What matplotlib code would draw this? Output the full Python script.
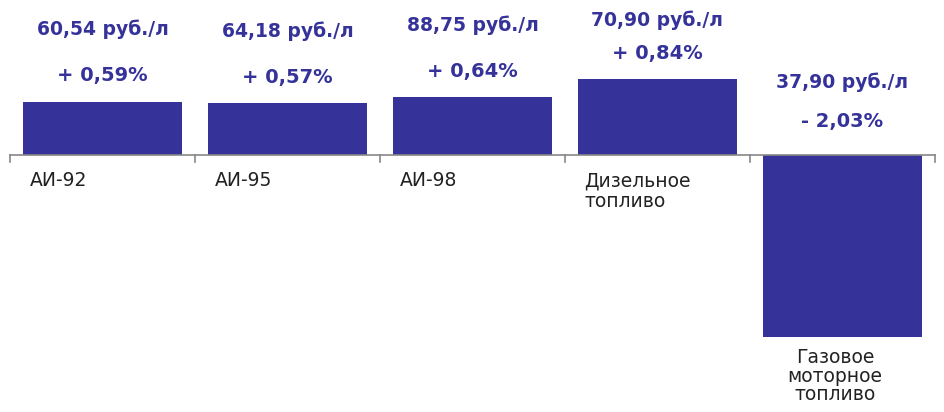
import matplotlib.pyplot as plt

categories = ["АИ-92", "АИ-95", "АИ-98", "Дизельное\nтопливо", "Газовое\nмоторное\nтопливо"]
changes = [0.59, 0.57, 0.64, 0.84, -2.03]
prices = ["60,54 руб./л", "64,18 руб./л", "88,75 руб./л", "70,90 руб./л", "37,90 руб./л"]
change_labels = ["+ 0,59%", "+ 0,57%", "+ 0,64%", "+ 0,84%", "- 2,03%"]

color = "#35339a"
fig = plt.figure(figsize=(9.44, 4.12), dpi=100)
ax = fig.add_axes([0, 0, 1, 1])
ax.set_xlim(-0.554, 4.549)
ax.set_ylim(-2.86, 1.72)
ax.axis("off")

x = list(range(len(categories)))
ax.bar(x, changes, width=0.86, color=color)
ax.plot([-0.5, 4.5], [0, 0], color="#888888", lw=1.2)
for b in range(6):
    ax.plot([b - 0.5, b - 0.5], [0, -0.08], color="#888888", lw=1.2)

for i, v in enumerate(changes):
    if v > 0:
        ax.text(i, v + 0.29, change_labels[i], ha="center", va="center",
                fontsize=14, fontweight="bold", color=color)
        ax.text(i, min(v + 0.8, 1.5), prices[i], ha="center", va="center",
                fontsize=13.5, fontweight="bold", color=color)
        ax.annotate(categories[i], (i - 0.5, 0), xytext=(14, -12), textcoords="offset points",
                    ha="left", va="top", fontsize=13.5, color="#222222", linespacing=1.1)
    else:
        ax.text(i, 0.37, change_labels[i], ha="center", va="center",
                fontsize=14, fontweight="bold", color=color)
        ax.text(i, 0.81, prices[i], ha="center", va="center",
                fontsize=13.5, fontweight="bold", color=color)
        ax.annotate(categories[i], (i - 0.04, v), xytext=(0, -8), textcoords="offset points",
                    ha="center", va="top", fontsize=13.5, color="#222222", linespacing=0.95)

fig.savefig("out.png", dpi=100)
